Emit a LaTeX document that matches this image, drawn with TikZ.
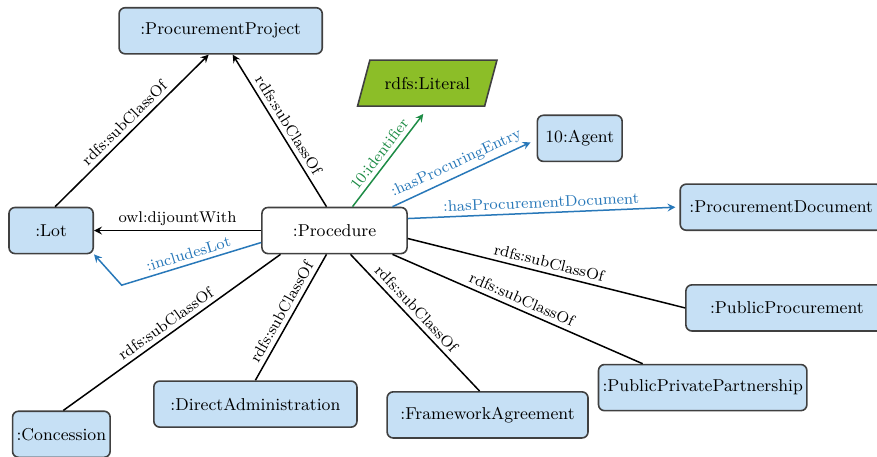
\documentclass[tikz,border=0pt]{standalone}
\usepackage{xcolor}
\usepackage{tikz}
\usetikzlibrary{shapes,arrows,positioning,calc}

\definecolor{clsblue}{RGB}{198,224,245}
\definecolor{litgreen}{RGB}{140,190,40}
\definecolor{propblue}{RGB}{40,120,185}
\definecolor{propgreen}{RGB}{30,140,70}

\begin{document}
\begin{tikzpicture}[
    on grid,
    cls/.style={rectangle, rounded corners=3pt, draw=black!75, fill=clsblue, line width=0.8pt, minimum height=0.81cm, inner sep=2pt, font=\fontsize{8.6}{10}\selectfont},
    lit/.style={trapezium, trapezium left angle=67.5, trapezium right angle=112.5, trapezium stretches=true, draw=black!75, fill=litgreen, line width=0.8pt, minimum height=0.81cm, minimum width=2.46cm, font=\fontsize{8.6}{10}\selectfont},
    rel/.style={line width=0.75pt},
    arrow/.style={->, >=stealth, line width=0.75pt},
    lbl/.style={font=\fontsize{7.8}{9}\selectfont, inner sep=2.2pt},
]
\useasboundingbox (-5.878,-3.963) rectangle (9.533,4.051);

% Central class and its neighbours
\node[cls, fill=white, minimum width=2.55cm] (procedure) {:Procedure};

\node[cls, minimum width=3.57cm, above left=3.51cm and 2.00cm of procedure] (project) {:ProcurementProject};
\node[lit, above right=2.59cm and 1.63cm of procedure] (literal) {rdfs:Literal};
\node[cls, minimum width=1.49cm, above right=1.62cm and 4.31cm of procedure] (agent) {10:Agent};
\node[cls, minimum width=3.55cm, above right=0.41cm and 7.85cm of procedure] (procdoc) {:ProcurementDocument};
\node[cls, minimum width=1.48cm, left=4.98cm of procedure] (lot) {:Lot};

\node[cls, minimum width=3.55cm, below right=1.36cm and 7.95cm of procedure] (pubproc) {:PublicProcurement};
\node[cls, minimum width=3.57cm, below right=2.76cm and 6.47cm of procedure] (ppp) {:PublicPrivatePartnership};
\node[cls, minimum width=3.53cm, below right=3.24cm and 2.69cm of procedure] (framework) {:FrameworkAgreement};
\node[cls, minimum width=3.57cm, below left=3.05cm and 1.39cm of procedure] (directadm) {:DirectAdministration};
\node[cls, minimum width=1.70cm, below left=3.58cm and 4.80cm of procedure] (concession) {:Concession};

\coordinate[below left=0.96cm and 3.74cm of procedure] (lotbend);

% Subclass links to the project
\draw[arrow] ([xshift=2pt]lot.north) -- ([xshift=-6pt]project.south) node[lbl, midway, above, sloped] {rdfs:subClassOf};
\draw[arrow] ([xshift=-4pt]procedure.north) -- ([xshift=6pt]project.south) node[lbl, midway, above, sloped] {rdfs:subClassOf};

% Links to the lot
\draw[arrow] (procedure.west) -- (lot.east) node[lbl, midway, above] {owl:dijountWith};
\draw[arrow, propblue] ([yshift=-6pt]procedure.west) -- node[lbl, above, sloped] {:includesLot} (lotbend) -- (lot.south east);

% Properties
\draw[arrow, propgreen] ([xshift=9pt]procedure.north) -- ([xshift=-2pt,yshift=-3.5pt]literal.south) node[lbl, midway, above, sloped] {10:identifier};
\draw[arrow, propblue] ([xshift=29pt]procedure.north) -- ([xshift=-3pt,yshift=-2pt]agent.west) node[lbl, midway, above, sloped] {:hasProcuringEntry};
\draw[arrow, propblue] ([yshift=6pt]procedure.east) -- ([xshift=-2pt]procdoc.west) node[lbl, midway, above, sloped] {:hasProcurementDocument};

% Subclasses of the procedure
\draw[rel] ([yshift=-4pt]procedure.east) -- (pubproc.west) node[lbl, midway, above, sloped] {rdfs:subClassOf};
\draw[rel] ([xshift=29pt]procedure.south) -- ([xshift=-30pt]ppp.north) node[lbl, midway, above, sloped] {rdfs:subClassOf};
\draw[rel] ([xshift=8pt]procedure.south) -- ([xshift=-4pt]framework.north) node[lbl, pos=0.45, above, sloped] {rdfs:subClassOf};
\draw[rel] ([xshift=-4pt]procedure.south) -- (directadm.north) node[lbl, midway, above, sloped] {rdfs:subClassOf};
\draw[rel] ([xshift=-27pt]procedure.south) -- ([xshift=1pt]concession.north) node[lbl, midway, above, sloped] {rdfs:subClassOf};

\end{tikzpicture}
\end{document}
